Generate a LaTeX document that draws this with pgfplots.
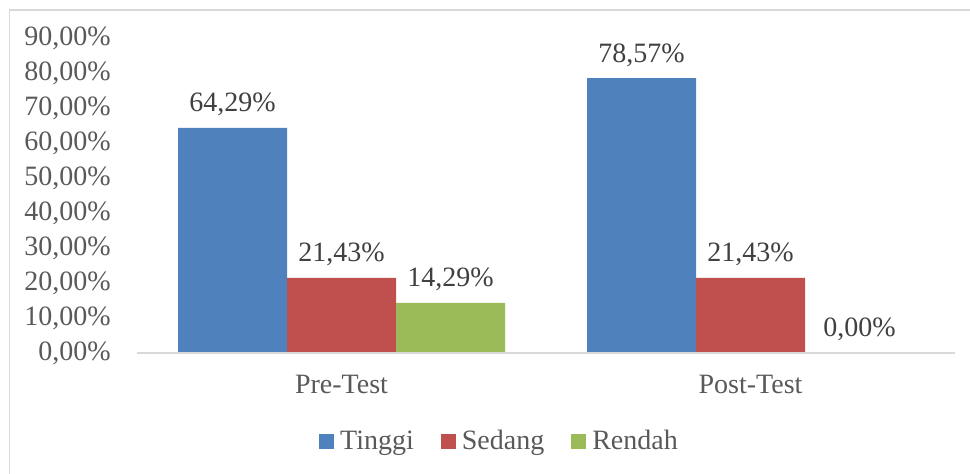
\documentclass[border=0pt]{standalone}
\usepackage{fontspec}
\setmainfont{Liberation Serif}
\usepackage{pgfplots}
\pgfplotsset{compat=1.18}
\definecolor{cT}{HTML}{4F81BD}
\definecolor{cS}{HTML}{C0504D}
\definecolor{cR}{HTML}{9BBB59}
\definecolor{txt}{HTML}{595959}
\definecolor{lbl}{HTML}{404040}
\definecolor{grid}{HTML}{D9D9D9}
\newcommand{\bigf}{\fontsize{28}{32}\selectfont}
\begin{document}
\begin{tikzpicture}
\useasboundingbox (0pt,0pt) rectangle (970pt,474pt);
\draw[grid, line width=1.5pt] (9.5pt,-10pt) rectangle (990pt,464pt);
\begin{axis}[
  at={(137pt,121pt)}, anchor=south west,
  scale only axis, width=818pt, height=315pt,
  ybar=0pt, bar width=109pt,
  xmin=-0.5, xmax=1.5, ymin=0, ymax=90,
  enlargelimits=false, clip=false, axis on top,
  axis x line=bottom, axis y line=left,
  x axis line style={draw=grid, line width=1.5pt, -},
  y axis line style={draw=none},
  major tick length=0pt,
  xtick={0,1}, xticklabels={Pre-Test,Post-Test},
  ytick={0,10,...,90},
  /pgf/number format/assume math mode=true,
  yticklabel={\pgfmathprintnumber[fixed,fixed zerofill,precision=2,use comma]{\tick}\%},
  yticklabel style={anchor=east, inner sep=0pt, xshift=-26pt, font=\bigf, text=txt},
  xticklabel style={anchor=base, inner sep=0pt, yshift=-41pt, font=\bigf, text=txt},
  nodes near coords={\pgfmathprintnumber[fixed,fixed zerofill,precision=2,use comma,assume math mode=true]{\pgfplotspointmeta}\%},
  nodes near coords style={anchor=base, inner sep=0pt, yshift=16pt, font=\bigf, text=lbl},
  legend columns=3,
  legend style={draw=none, fill=none, inner sep=0pt, at={(0.2225,-0.279)}, anchor=west,
    nodes={inner sep=0pt, font=\bigf, text=txt, anchor=base west},
    /tikz/every even column/.append style={column sep=27pt},
    /tikz/every odd column/.append style={column sep=6pt}},
]
\addplot[fill=cT, draw=none, legend image code/.code={\fill[cT] (0pt,1pt) rectangle (15pt,16pt);}] coordinates {(0,64.29) (1,78.57)};
\addplot[fill=cS, draw=none, legend image code/.code={\fill[cS] (0pt,1pt) rectangle (15pt,16pt);}] coordinates {(0,21.43) (1,21.43)};
\addplot[fill=cR, draw=none, legend image code/.code={\fill[cR] (0pt,1pt) rectangle (15pt,16pt);}] coordinates {(0,14.29) (1,0)};
\legend{Tinggi,Sedang,Rendah}
\end{axis}
\end{tikzpicture}
\end{document}
